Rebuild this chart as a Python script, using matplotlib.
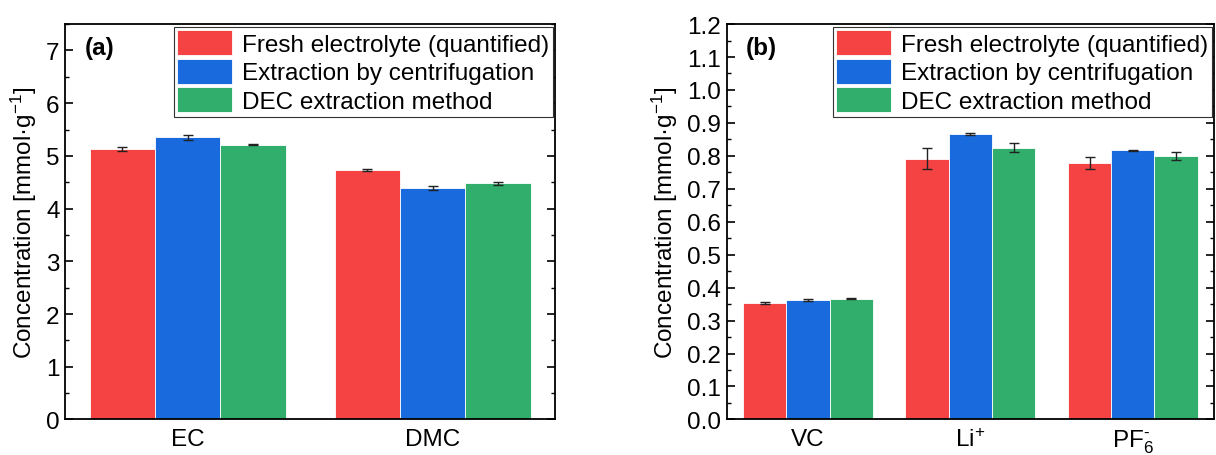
import matplotlib
matplotlib.use("Agg")
import matplotlib.pyplot as plt
import numpy as np
from matplotlib.ticker import MultipleLocator, FormatStrFormatter

plt.rcParams["font.family"] = ["Liberation Sans", "DejaVu Sans"]
plt.rcParams["mathtext.default"] = "regular"

series = ["Fresh electrolyte (quantified)", "Extraction by centrifugation", "DEC extraction method"]
colors = ["#F54343", "#186ADD", "#31AE6C"]

cats_a = ["EC", "DMC"]
vals_a = [[5.13, 4.74], [5.35, 4.39], [5.21, 4.48]]
errs_a = [[0.04, 0.02], [0.05, 0.03], [0.01, 0.03]]

cats_b = ["VC", "Li$^{+}$", "PF$_6^{\u2010}$"]
vals_b = [[0.352, 0.791, 0.779], [0.362, 0.867, 0.817], [0.367, 0.825, 0.799]]
errs_b = [[0.003, 0.032, 0.019], [0.003, 0.003, 0.002], [0.002, 0.013, 0.012]]

fig = plt.figure(figsize=(12.16, 4.56), dpi=100)
ax1 = fig.add_axes([0.0535, 0.078, 0.403, 0.867])
ax2 = fig.add_axes([0.5976, 0.078, 0.4008, 0.867])

w = 0.8 / 3
fs = 17.5


def draw(ax, cats, vals, errs, ylim, major, minor, tag):
    x = np.arange(len(cats))
    for i in range(3):
        ax.bar(x + (i - 1) * w, vals[i], w, color=colors[i], edgecolor="white",
               linewidth=0.6, label=series[i])
        ax.errorbar(x + (i - 1) * w, vals[i], yerr=errs[i], fmt="none",
                    ecolor="#222222", elinewidth=1.0, capsize=3.5, capthick=1.0)
    ax.set_xlim(-0.5, len(cats) - 0.5)
    ax.set_ylim(*ylim)
    ax.set_xticks(x)
    ax.set_xticklabels(cats)
    ax.yaxis.set_major_locator(MultipleLocator(major))
    ax.yaxis.set_minor_locator(MultipleLocator(minor))
    ax.tick_params(axis="x", length=0, labelsize=fs, pad=6)
    ax.tick_params(axis="y", which="major", direction="in", length=6, width=1.2,
                   right=True, labelsize=fs, pad=4)
    ax.tick_params(axis="y", which="minor", direction="in", length=3, width=1.0,
                   right=True)
    for s in ax.spines.values():
        s.set_linewidth(1.3)
    ax.set_ylabel("Concentration [mmol·g$^{-1}$]", fontsize=fs, labelpad=5)
    ax.text(0.04, 0.94, tag, transform=ax.transAxes, fontsize=fs,
            fontweight="bold", ha="left", va="center")
    leg = ax.legend(loc="upper right", fontsize=fs, frameon=True, fancybox=False,
                    framealpha=1, edgecolor="#333333", handlelength=2.25,
                    handleheight=1.2, labelspacing=0.12, handletextpad=0.4,
                    borderpad=0.15, borderaxespad=0.1)
    leg.get_frame().set_linewidth(0.8)


draw(ax1, cats_a, vals_a, errs_a, (0, 7.5), 1, 0.5, "(a)")
ax1.yaxis.set_major_formatter(FormatStrFormatter("%d"))
draw(ax2, cats_b, vals_b, errs_b, (0, 1.2), 0.1, 0.05, "(b)")
ax2.yaxis.set_major_formatter(FormatStrFormatter("%.1f"))

fig.savefig("out.png", dpi=100)
